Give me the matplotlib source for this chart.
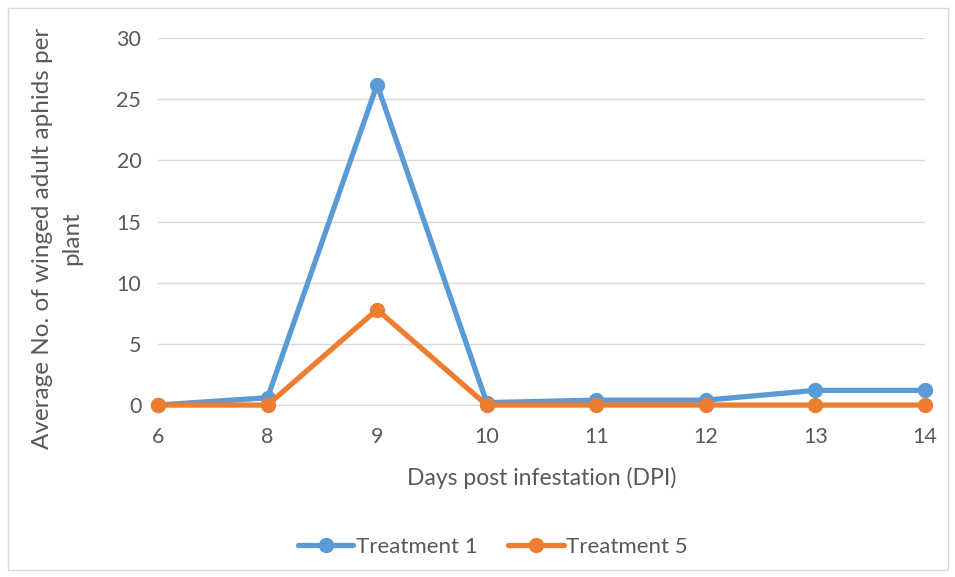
import matplotlib.pyplot as plt
from matplotlib.patches import Rectangle

# days post infestation and mean winged adults per plant
days = ["6", "8", "9", "10", "11", "12", "13", "14"]
treatment_1 = [0, 0.6, 26.2, 0.2, 0.4, 0.4, 1.2, 1.2]
treatment_5 = [0, 0, 7.8, 0, 0, 0, 0, 0]

plt.rcParams['font.family'] = ['Lato', 'DejaVu Sans']
text_col = '#595959'
grid_col = '#d9d9d9'

fig = plt.figure(figsize=(9.55, 5.77), dpi=100)
fig.patches.append(Rectangle((8 / 955, 7 / 577), 940 / 955, 562 / 577,
                             transform=fig.transFigure, fill=False,
                             edgecolor=grid_col, linewidth=1))
ax = fig.add_axes([0.1654, 0.298, 0.8032, 0.636])

x = range(len(days))
ax.plot(x, treatment_1, color='#5b9bd5', lw=3.8, marker='o', ms=10,
        label='Treatment 1', solid_capstyle='round', zorder=3, clip_on=False)
ax.plot(x, treatment_5, color='#ed7d31', lw=3.8, marker='o', ms=10,
        label='Treatment 5', solid_capstyle='round', zorder=4, clip_on=False)

ax.set_xlim(0, len(days) - 1)
ax.set_ylim(0, 30)
ax.set_yticks(range(0, 31, 5))
ax.set_xticks(list(x))
ax.set_xticklabels(days)
ax.grid(axis='y', color=grid_col, lw=1)
ax.set_axisbelow(True)
for side in ['top', 'right', 'left']:
    ax.spines[side].set_visible(False)
ax.spines['bottom'].set_color(grid_col)
ax.tick_params(length=0, labelsize=15.5, colors=text_col)
ax.tick_params(axis='y', pad=12)
ax.tick_params(axis='x', pad=16)

ax.set_xlabel('Days post infestation (DPI)', fontsize=16.5, color=text_col, labelpad=14)
ax.set_ylabel('Average No. of winged adult aphids per\nplant', fontsize=17.5,
              color=text_col, linespacing=1.45)
ax.yaxis.set_label_coords(-0.099, 0.454)

leg = fig.legend(loc='center', bbox_to_anchor=(0.516, 0.052), ncol=2, frameon=False,
                 fontsize=16, handlelength=2.5, handletextpad=0.1, columnspacing=1.4)
for t in leg.get_texts():
    t.set_color(text_col)

fig.savefig('out.png', dpi=100)
